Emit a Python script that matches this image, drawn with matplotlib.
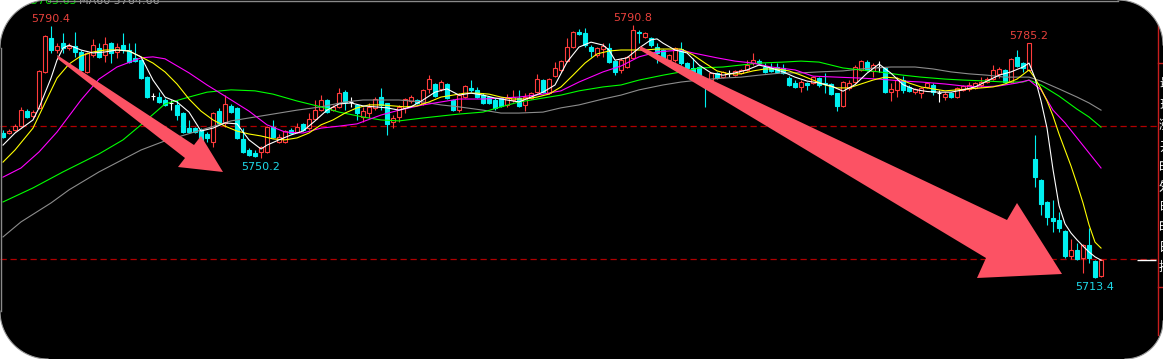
import numpy as np
import matplotlib
matplotlib.use('Agg')  # no display
import matplotlib.pyplot as plt
from matplotlib.patches import Polygon

# --- candle data ---
opens = [5757.7, 5757.7, 5758.6, 5759.8, 5764.4, 5762.9, 5765.4, 5776.4, 5786.8, 5783.1,
         5785.2, 5783.7, 5784.3, 5782.5, 5776.4, 5781.6, 5783.7, 5781.6, 5785.2, 5782.5,
         5784.6, 5783.1, 5780.7, 5780.0, 5774.8, 5769.0, 5768.7, 5767.8, 5766.9, 5766.3,
         5763.8, 5759.2, 5759.2, 5758.6, 5757.4, 5755.0, 5764.4, 5760.8, 5766.0, 5765.4,
         5755.9, 5752.5, 5751.6, 5751.9, 5751.9, 5759.5, 5755.0, 5755.0, 5758.6, 5758.0,
         5760.5, 5759.2, 5762.0, 5764.7, 5767.8, 5764.7, 5765.7, 5770.2, 5767.2, 5766.3,
         5762.6, 5763.8, 5765.4, 5768.7, 5766.9, 5761.1, 5762.6, 5765.4, 5767.5, 5767.8,
         5766.9, 5771.2, 5772.7, 5771.2, 5772.7, 5767.8, 5764.7, 5768.7, 5771.5, 5770.9,
         5769.3, 5768.7, 5767.8, 5768.4, 5766.3, 5767.8, 5768.4, 5766.3, 5768.4, 5770.2,
         5773.9, 5769.9, 5775.1, 5777.0, 5779.7, 5784.0, 5788.6, 5788.3, 5784.0, 5781.6,
         5783.4, 5783.7, 5779.7, 5777.0, 5777.9, 5780.7, 5788.6, 5787.1, 5786.8, 5784.0,
         5783.1, 5780.0, 5780.0, 5783.4, 5779.1, 5777.6, 5777.9, 5772.4, 5773.9, 5776.1,
         5774.8, 5776.1, 5775.5, 5776.1, 5777.0, 5779.1, 5779.7, 5777.9, 5777.6, 5777.9,
         5777.6, 5774.5, 5773.0, 5771.8, 5773.0, 5773.0, 5774.5, 5773.0, 5772.7, 5769.9,
         5766.0, 5771.5, 5773.3, 5777.0, 5779.4, 5776.7, 5777.9, 5777.6, 5770.2, 5770.9,
         5773.9, 5771.8, 5770.2, 5769.9, 5771.8, 5772.4, 5769.9, 5768.7, 5769.9, 5768.7,
         5770.9, 5771.2, 5771.5, 5772.4, 5773.3, 5774.2, 5775.8, 5777.0, 5773.3, 5781.0,
         5779.1, 5777.0, 5749.8, 5743.3, 5736.6, 5731.7, 5731.1, 5727.7, 5720.1, 5721.9,
         5719.5, 5723.4, 5718.5, 5714.0]
highs = [5758.6, 5758.9, 5760.5, 5765.7, 5765.0, 5764.7, 5777.0, 5787.7, 5790.4, 5785.2,
         5788.3, 5785.2, 5788.6, 5783.1, 5782.5, 5786.5, 5785.2, 5787.1, 5785.6, 5785.2,
         5788.3, 5785.2, 5785.2, 5780.4, 5775.1, 5769.9, 5770.2, 5768.4, 5767.8, 5767.8,
         5764.1, 5761.7, 5759.5, 5759.2, 5758.0, 5764.1, 5765.4, 5769.3, 5766.6, 5765.7,
         5759.2, 5753.1, 5752.5, 5753.7, 5759.8, 5761.7, 5757.4, 5758.6, 5759.2, 5760.8,
         5760.8, 5763.8, 5767.8, 5769.3, 5768.1, 5766.3, 5771.5, 5770.9, 5768.7, 5766.6,
         5765.7, 5766.9, 5768.7, 5771.5, 5766.9, 5763.2, 5766.3, 5768.4, 5769.3, 5768.1,
         5771.2, 5775.5, 5773.0, 5773.9, 5773.0, 5768.1, 5769.9, 5772.4, 5773.9, 5771.8,
         5769.9, 5769.0, 5768.4, 5768.7, 5769.6, 5770.9, 5770.9, 5769.9, 5770.2, 5775.8,
         5774.2, 5774.5, 5779.4, 5780.0, 5786.8, 5788.9, 5789.5, 5789.8, 5784.6, 5784.0,
         5785.2, 5785.2, 5780.0, 5780.7, 5781.3, 5790.8, 5789.2, 5788.6, 5787.1, 5785.2,
         5783.4, 5781.9, 5784.0, 5785.6, 5779.4, 5780.7, 5778.2, 5772.7, 5776.4, 5776.4,
         5776.7, 5777.0, 5777.0, 5777.3, 5780.0, 5782.2, 5780.4, 5779.1, 5779.1, 5779.1,
         5778.8, 5775.1, 5773.9, 5773.9, 5773.3, 5775.1, 5774.8, 5776.1, 5773.0, 5769.9,
         5773.6, 5773.9, 5778.5, 5780.0, 5780.0, 5779.1, 5779.7, 5777.9, 5773.0, 5774.8,
         5775.1, 5772.4, 5771.5, 5771.8, 5773.3, 5773.0, 5770.9, 5770.2, 5770.2, 5771.8,
         5772.4, 5773.3, 5773.3, 5774.8, 5774.8, 5778.5, 5777.9, 5777.3, 5780.7, 5783.1,
         5779.4, 5785.2, 5757.1, 5743.6, 5736.9, 5737.2, 5733.5, 5728.0, 5725.3, 5724.0,
         5723.7, 5728.6, 5718.8, 5719.2]
lows = [5756.2, 5757.4, 5758.3, 5759.5, 5762.3, 5762.3, 5765.1, 5776.1, 5782.2, 5782.2,
        5782.2, 5783.1, 5781.0, 5776.7, 5776.1, 5781.0, 5780.7, 5779.4, 5779.1, 5780.7,
        5782.2, 5779.1, 5779.4, 5774.2, 5768.4, 5767.8, 5766.9, 5766.0, 5764.7, 5761.7,
        5757.7, 5757.7, 5757.7, 5755.3, 5755.0, 5753.4, 5760.5, 5759.5, 5763.8, 5755.9,
        5751.6, 5750.6, 5750.4, 5750.2, 5751.6, 5756.2, 5754.6, 5754.6, 5757.4, 5757.7,
        5758.3, 5758.6, 5761.7, 5764.4, 5763.8, 5764.4, 5765.4, 5764.7, 5765.7, 5761.7,
        5761.1, 5762.3, 5764.7, 5764.7, 5757.1, 5759.2, 5761.1, 5763.8, 5766.9, 5766.6,
        5766.3, 5769.9, 5768.7, 5770.6, 5768.1, 5764.4, 5764.1, 5768.4, 5770.2, 5768.4,
        5766.6, 5766.6, 5764.7, 5765.7, 5765.7, 5767.2, 5765.7, 5764.4, 5768.1, 5769.9,
        5769.9, 5769.6, 5774.8, 5776.4, 5779.4, 5783.7, 5787.7, 5784.0, 5781.0, 5781.0,
        5781.0, 5779.1, 5775.5, 5776.1, 5777.6, 5780.4, 5785.2, 5786.8, 5784.0, 5779.1,
        5780.4, 5779.7, 5779.4, 5778.5, 5777.0, 5776.1, 5772.7, 5765.7, 5773.6, 5774.2,
        5774.5, 5774.8, 5775.1, 5775.8, 5776.7, 5778.5, 5778.5, 5776.1, 5776.4, 5776.1,
        5775.8, 5772.1, 5771.5, 5770.2, 5770.9, 5772.7, 5771.8, 5769.9, 5769.3, 5764.4,
        5765.7, 5770.9, 5773.0, 5776.7, 5776.7, 5774.8, 5776.4, 5769.9, 5767.5, 5768.7,
        5769.9, 5770.2, 5769.6, 5768.4, 5771.5, 5769.3, 5767.2, 5767.8, 5768.4, 5768.4,
        5770.6, 5770.6, 5771.2, 5771.8, 5773.0, 5773.9, 5774.5, 5773.0, 5773.0, 5777.9,
        5776.4, 5776.7, 5741.2, 5732.6, 5729.6, 5727.4, 5727.4, 5719.5, 5719.2, 5718.8,
        5714.9, 5717.9, 5713.4, 5713.6]
closes = [5756.5, 5758.3, 5759.8, 5764.7, 5762.6, 5764.1, 5776.7, 5787.4, 5783.1, 5784.3,
          5783.7, 5784.3, 5782.5, 5777.0, 5782.2, 5784.6, 5781.0, 5784.9, 5782.2, 5784.0,
          5783.1, 5779.4, 5779.7, 5774.5, 5768.7, 5769.0, 5767.2, 5766.3, 5766.9, 5763.2,
          5758.0, 5758.0, 5758.0, 5755.6, 5756.2, 5763.8, 5760.8, 5766.6, 5764.1, 5756.2,
          5751.9, 5750.9, 5750.7, 5753.4, 5759.5, 5756.5, 5756.5, 5758.3, 5757.7, 5759.5,
          5758.6, 5762.0, 5764.7, 5767.8, 5764.1, 5765.7, 5769.9, 5767.2, 5767.2, 5763.8,
          5764.4, 5765.7, 5768.1, 5766.3, 5760.5, 5762.3, 5765.7, 5768.1, 5768.7, 5766.9,
          5770.9, 5774.2, 5769.0, 5773.3, 5768.4, 5764.7, 5769.3, 5772.1, 5770.9, 5768.7,
          5766.9, 5766.9, 5765.4, 5766.0, 5768.4, 5768.7, 5766.0, 5768.7, 5769.9, 5774.2,
          5770.2, 5774.2, 5777.6, 5779.7, 5784.0, 5788.6, 5788.0, 5784.6, 5782.8, 5783.7,
          5784.3, 5779.4, 5776.4, 5780.0, 5781.0, 5789.2, 5788.3, 5788.3, 5784.6, 5782.2,
          5780.7, 5781.6, 5783.7, 5779.1, 5777.6, 5776.4, 5773.0, 5771.8, 5776.1, 5774.5,
          5776.4, 5776.1, 5776.7, 5777.0, 5778.5, 5780.0, 5779.1, 5776.4, 5776.7, 5776.4,
          5776.1, 5772.4, 5771.8, 5773.3, 5772.4, 5774.8, 5772.4, 5772.7, 5769.6, 5766.0,
          5773.3, 5773.0, 5777.9, 5779.7, 5777.0, 5778.5, 5777.9, 5770.2, 5771.2, 5773.9,
          5770.9, 5770.6, 5771.2, 5771.5, 5773.0, 5770.2, 5769.9, 5769.6, 5768.7, 5771.5,
          5772.1, 5772.4, 5773.0, 5773.3, 5774.2, 5777.0, 5777.3, 5773.3, 5780.4, 5778.2,
          5777.6, 5785.2, 5744.2, 5736.0, 5732.0, 5730.8, 5728.6, 5720.1, 5721.9, 5719.2,
          5723.4, 5719.5, 5713.7, 5718.8]

# moving averages, read at sample bars
ma5_idx = [0, 2, 5, 6, 8, 9, 10, 11, 13, 15, 17, 19, 21, 23, 25, 27, 29, 31, 33, 35,
           37, 39, 41, 43, 44, 46, 48, 50, 52, 54, 56, 58, 60, 62, 64, 66, 68, 70, 72, 74,
           76, 78, 80, 82, 84, 86, 88, 90, 92, 94, 96, 98, 100, 101, 102, 104, 106, 108, 109, 110,
           112, 114, 116, 118, 120, 122, 124, 126, 128, 130, 132, 134, 136, 138, 140, 142, 144, 146, 148, 150,
           152, 154, 156, 158, 160, 162, 164, 166, 168, 170, 171, 172, 173, 174, 175, 176, 177, 178, 179, 180,
           181, 182, 183]
ma5 = [5754.0, 5757.7, 5761.7, 5765.4, 5774.5, 5780.0, 5783.7, 5784.6, 5783.1, 5782.2,
       5782.5, 5783.1, 5782.8, 5781.0, 5773.9, 5768.7, 5767.2, 5764.1, 5758.3, 5759.2,
       5760.8, 5760.5, 5755.6, 5752.8, 5754.0, 5755.6, 5757.1, 5758.3, 5761.4, 5764.7,
       5766.6, 5766.9, 5766.0, 5765.7, 5765.4, 5764.7, 5765.7, 5767.8, 5770.2, 5771.2,
       5769.3, 5769.9, 5769.3, 5768.4, 5767.8, 5767.2, 5768.7, 5770.2, 5772.4, 5779.4,
       5784.0, 5785.5, 5784.6, 5783.1, 5780.0, 5780.7, 5783.7, 5786.2, 5786.5, 5785.2,
       5783.1, 5782.2, 5778.5, 5776.1, 5775.4, 5776.1, 5777.0, 5778.5, 5777.6, 5776.4,
       5774.8, 5773.6, 5773.0, 5772.1, 5770.5, 5772.5, 5776.0, 5778.8, 5776.0, 5772.5,
       5771.0, 5770.4, 5770.2, 5770.2, 5770.9, 5771.8, 5773.6, 5775.4, 5776.4, 5777.9,
       5779.1, 5774.5, 5767.5, 5759.2, 5746.5, 5735.5, 5729.9, 5727.1, 5725.0, 5723.1,
       5721.3, 5719.8, 5718.8]

ma10_idx = [0, 2, 5] + list(range(7, 172, 2)) + list(range(172, 184))
ma10 = [5748.8, 5752.5, 5759.2, 5766.9, 5774.5, 5778.8, 5781.3, 5782.5, 5783.1, 5783.1,
        5782.8, 5781.0, 5779.1, 5776.4, 5772.7, 5768.1, 5764.4, 5761.7, 5759.8, 5758.3,
        5757.4, 5756.8, 5755.9, 5755.6, 5756.2, 5757.7, 5760.2, 5761.7, 5763.8, 5765.4,
        5766.3, 5766.3, 5766.0, 5765.7, 5766.0, 5767.2, 5768.7, 5769.3, 5769.9, 5769.9,
        5769.6, 5768.7, 5768.1, 5768.1, 5768.7, 5769.6, 5771.8, 5775.4, 5779.1, 5781.9,
        5782.8, 5783.1, 5783.1, 5783.1, 5783.4, 5783.4, 5783.4, 5781.6, 5779.1, 5776.7,
        5775.8, 5775.8, 5776.7, 5777.3, 5777.3, 5776.7, 5775.4, 5773.9, 5772.4, 5771.5,
        5771.5, 5772.7, 5773.9, 5774.8, 5774.5, 5773.0, 5771.8, 5771.2, 5770.6, 5770.9,
        5771.2, 5771.5, 5771.8, 5772.7, 5774.2, 5777.0,
        5774.5, 5771.2, 5767.5, 5762.9, 5757.4, 5752.5, 5747.6, 5742.1, 5736.3, 5729.6,
        5724.3, 5722.5]

ma20_idx = [0, 3, 6, 9, 13, 16, 19, 23, 25, 27, 31, 34, 37, 41, 44, 47, 50, 53, 56, 59,
            63, 66, 70, 73, 76, 80, 83, 86, 90, 93, 96, 100, 103, 106, 109, 113, 115, 119, 122, 125,
            128, 132, 135, 139, 143, 146, 150, 153, 157, 160, 163, 166, 169, 171, 173, 175, 177, 179, 181, 183]
ma20 = [5744.2, 5747.0, 5751.9, 5758.0, 5767.8, 5774.2, 5777.9, 5780.7, 5781.0, 5780.4,
        5776.1, 5772.4, 5769.0, 5764.4, 5760.2, 5758.0, 5757.7, 5759.2, 5759.8, 5760.5,
        5763.2, 5764.7, 5766.3, 5767.2, 5768.1, 5768.1, 5768.4, 5768.7, 5769.6, 5770.6,
        5773.3, 5776.4, 5778.2, 5781.0, 5782.5, 5783.1, 5782.2, 5780.7, 5779.7, 5779.1,
        5777.9, 5777.0, 5775.1, 5774.8, 5774.5, 5774.2, 5773.6, 5773.3, 5772.7, 5772.1,
        5771.8, 5772.1, 5773.0, 5773.9, 5770.9, 5764.7, 5760.8, 5756.2, 5751.6, 5747.0]

ma40_idx = [0, 5, 10, 16, 20, 23, 27, 31, 34, 38, 42, 45, 49, 53, 56, 60, 63, 66, 70, 73,
            76, 80, 83, 86, 90, 93, 96, 100, 103, 106, 110, 113, 116, 120, 123, 126, 130, 133, 136, 140,
            143, 146, 150, 153, 157, 160, 164, 167, 170, 171, 173, 176, 179, 181, 183]
ma40 = [5736.6, 5740.9, 5745.8, 5751.3, 5755.6, 5760.2, 5766.6, 5768.7, 5770.2, 5770.9,
        5770.6, 5769.6, 5767.5, 5765.7, 5764.1, 5762.6, 5761.7, 5761.4, 5762.3, 5762.9,
        5763.5, 5764.1, 5765.7, 5767.2, 5768.4, 5769.3, 5770.6, 5771.8, 5772.4, 5773.9,
        5775.4, 5776.4, 5777.6, 5777.9, 5778.5, 5779.1, 5779.4, 5779.7, 5779.4, 5777.6,
        5777.0, 5776.4, 5775.4, 5774.8, 5774.2, 5773.9, 5773.6, 5773.3, 5773.3, 5773.9,
        5772.4, 5769.0, 5765.0, 5762.6, 5759.5]

ma60_idx = [0, 3, 8, 11, 16, 23, 27, 33, 38, 44, 49, 53, 57, 60, 66, 70, 73, 76, 80, 83,
            86, 90, 93, 96, 100, 103, 106, 110, 113, 116, 120, 123, 126, 130, 133, 136, 140, 143, 148, 152,
            155, 158, 161, 164, 167, 171, 173, 176, 179, 181, 183]
ma60 = [5725.9, 5730.5, 5736.3, 5740.3, 5745.8, 5752.5, 5755.3, 5758.6, 5761.4, 5763.2,
        5764.7, 5765.7, 5767.2, 5767.8, 5767.8, 5767.2, 5766.3, 5765.7, 5764.7, 5763.8,
        5763.8, 5764.1, 5765.4, 5766.3, 5768.1, 5769.3, 5770.9, 5772.4, 5773.3, 5773.9,
        5774.5, 5774.8, 5775.4, 5776.1, 5776.1, 5776.4, 5776.7, 5777.3, 5777.9, 5777.9,
        5777.3, 5776.4, 5775.8, 5775.4, 5774.8, 5774.8, 5773.6, 5771.2, 5768.7, 5766.9,
        5764.7]

ref_lines = [5759.7, 5719.3]
mark_idx = [8, 43, 105, 171, 182]
mark_kind = ['high', 'low', 'high', 'high', 'low']

RED = '#FF3C3C'
CYAN = '#00F0F0'
W, H = 1163, 359

fig = plt.figure(figsize=(W / 100, H / 100), dpi=100, facecolor='black')
ax = fig.add_axes([0, 0, 1, 1])
ax.set_xlim(-0.5, 193.33)
ax.set_ylim(5688.55, 5798.4)
ax.axis('off')

n = len(closes)
x = np.arange(n)
o = np.array(opens)
c = np.array(closes)
up = c > o
down = c < o
flat = c == o

# reference lines and last price
for lvl in ref_lines:
    ax.hlines(lvl, -0.5, 192.3, color='#B00000', lw=0.9, linestyles=(0, (5, 3)), zorder=1)
ax.hlines(closes[-1], n + 5, n + 8.2, color='white', lw=1.0, zorder=1)

# candles
wick_col = np.where(up, RED, np.where(down, CYAN, 'white'))
ax.vlines(x, lows, highs, colors=wick_col, lw=0.8, zorder=2)
bw = 0.72
ax.bar(x[up], (c - o)[up], bottom=o[up], width=bw, facecolor='black', edgecolor=RED, lw=0.8, zorder=3)
ax.bar(x[down], (o - c)[down], bottom=c[down], width=bw, facecolor=CYAN, edgecolor=CYAN, lw=0.8, zorder=3)
ax.hlines(c[flat], x[flat] - bw / 2, x[flat] + bw / 2, colors='white', lw=0.8, zorder=3)

# moving averages
ax.plot(ma60_idx, ma60, color='#8C8C8C', lw=0.8, zorder=4)
ax.plot(ma40_idx, ma40, color='#00FF00', lw=0.8, zorder=4)
ax.plot(ma20_idx, ma20, color='#FF00FF', lw=0.8, zorder=4)
ax.plot(ma10_idx, ma10, color='#FFFF00', lw=0.8, zorder=4)
ax.plot(ma5_idx, ma5, color='white', lw=0.8, zorder=4)

# high / low labels
for i, kind in zip(mark_idx, mark_kind):
    if kind == 'high':
        ax.annotate(f'{highs[i]:.1f}', xy=(i, highs[i]), xytext=(0, 3), textcoords='offset points',
                    ha='center', va='baseline', color='#E8413C', fontsize=8, zorder=6)
    else:
        ax.annotate(f'{lows[i]:.1f}', xy=(i, lows[i]), xytext=(0, -3), textcoords='offset points',
                    ha='center', va='top', color='#1ED8E8', fontsize=8, zorder=6)

# overlay in pixel coordinates for arrows, frame and side panel
ov = fig.add_axes([0, 0, 1, 1], facecolor='none')
ov.set_xlim(0, W)
ov.set_ylim(H, 0)
ov.axis('off')

arrow_col = '#FC5264'
ov.add_patch(Polygon([(57, 55), (194, 145), (201, 136), (223, 172), (178, 167), (185, 158), (58, 59)],
                     closed=True, facecolor=arrow_col, edgecolor='none', zorder=5))
ov.add_patch(Polygon([(640, 46), (1007, 220), (1017, 203), (1062, 274), (977, 278), (986, 258), (640, 50)],
                     closed=True, facecolor=arrow_col, edgecolor='none', zorder=5))

# header (cut off at the top)
ov.text(77, 4.5, 'MA40 5765.65', color='#00E000', fontsize=8, ha='right', va='baseline')
ov.text(79, 4.5, 'MA60 5764.66', color='#A0A0A0', fontsize=8, ha='left', va='baseline')

# right side panel
ov.plot([1157.5, 1157.5], [0, 335], color='#C81E1E', lw=1)
ov.plot([1157.5, W], [62.5, 62.5], color='#C81E1E', lw=1)
ov.plot([1157.5, W], [287, 287], color='#C81E1E', lw=1)
side_chars = ['最', '现', '涨', '开', '时', '外', '昨', '时', '日', '持']
side_y = [83, 105, 125, 147, 167, 188, 208, 228, 248, 268]
for ch, yy in zip(side_chars, side_y):
    ov.text(1159, yy, ch, color='white', fontsize=9, ha='left', va='center',
            family=['Noto Sans CJK SC', 'DejaVu Sans'])

# rounded corners of the screenshot
def corner(cx, cy, r, a0, a1, pt):
    t = np.radians(np.linspace(a0, a1, 30))
    pts = [pt] + list(zip(cx + r * np.cos(t), cy + r * np.sin(t)))
    ov.add_patch(Polygon(pts, closed=True, facecolor='white', edgecolor='none', zorder=10))
    ov.plot(cx + r * np.cos(t), cy + r * np.sin(t), color='#9A9A9A', lw=0.8, zorder=11)

corner(48, 48, 48, 180, 270, (-2, -2))
corner(W - 45, 45, 45, 270, 360, (W + 2, -2))
corner(W - 38, H - 38, 38, 0, 90, (W + 2, H + 2))
corner(48, H - 48, 48, 90, 180, (-2, H + 2))
ov.plot([48, W - 45], [0.5, 0.5], color='#8A8A8A', lw=1, zorder=11)
ov.plot([0.5, 0.5], [48, H - 48], color='#8A8A8A', lw=1, zorder=11)

fig.savefig('out.png', dpi=100, facecolor=fig.get_facecolor())
plt.close(fig)
